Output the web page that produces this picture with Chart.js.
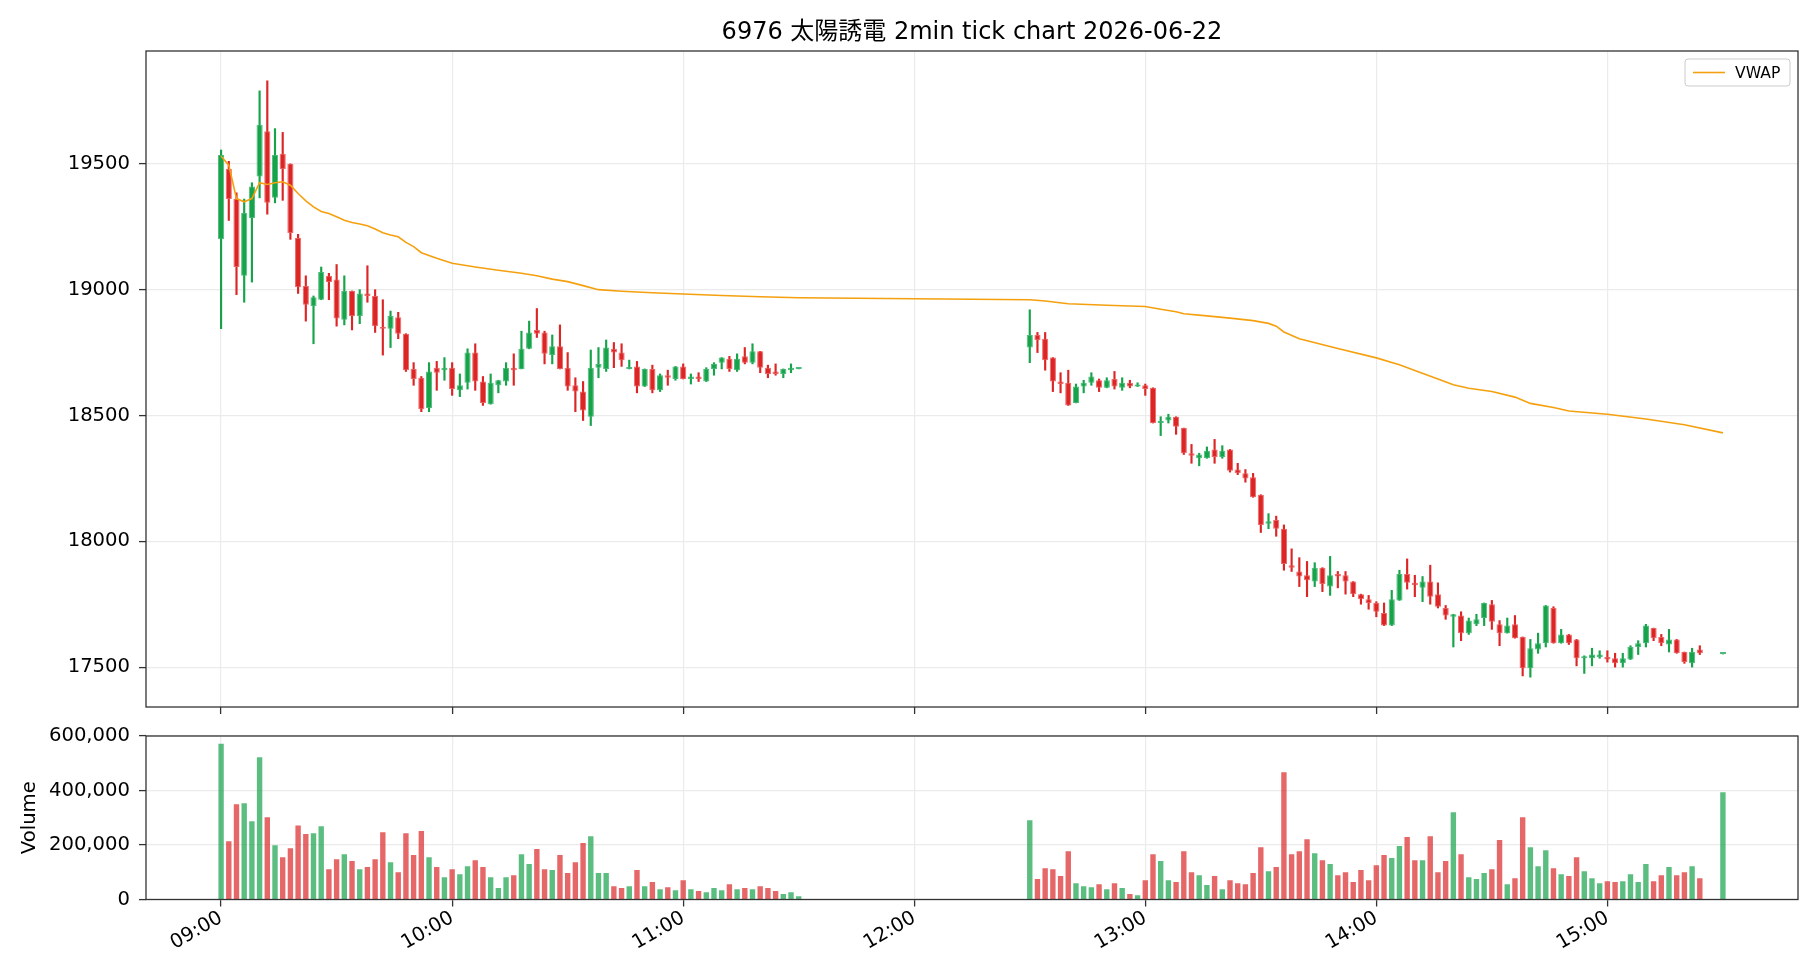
<!DOCTYPE html>
<html>
<head>
<meta charset="utf-8">
<title>6976 tick chart</title>
<script src="https://cdn.jsdelivr.net/npm/chart.js@4.4.1/dist/chart.umd.min.js"></script>
<style>
  body { margin: 0; background: #fff; }
  #wrap { position: relative; width: 1820px; height: 980px; }
  canvas { position: absolute; left: 0; }
  #priceChart { top: 0; }
  #volumeChart { top: 720px; }
</style>
</head>
<body>
<div id="wrap">
  <canvas id="priceChart" width="1820" height="720"></canvas>
  <canvas id="volumeChart" width="1820" height="260"></canvas>
</div>
<script>
const titleText = "6976 太陽誘電 2min tick chart 2026-06-22";

// morning session, 2-minute candles from 09:00
const amStart = "09:00";
const amOpen = [19200, 19480, 19360, 19055, 19285, 19450, 19630, 19365, 19540, 19500,
    19205, 19015, 18935, 18960, 19055, 19040, 18880, 18995, 18895, 18985,
    18975, 18850, 18845, 18890, 18825, 18685, 18650, 18530, 18690, 18680,
    18690, 18600, 18630, 18750, 18635, 18545, 18620, 18635, 18690, 18685,
    18765, 18840, 18830, 18740, 18775, 18690, 18620, 18595, 18495, 18690,
    18685, 18765, 18750, 18685, 18695, 18615, 18685, 18600, 18660, 18645,
    18695, 18645, 18655, 18635, 18685, 18710, 18725, 18680, 18735, 18710,
    18755, 18690, 18675, 18665, 18680, 18685];
const amHigh = [19555, 19510, 19385, 19360, 19425, 19790, 19830, 19640, 19625, 19500,
    19220, 19055, 18975, 19090, 19065, 19100, 19055, 18995, 19000, 19095,
    19000, 18960, 18915, 18910, 18825, 18710, 18655, 18710, 18715, 18730,
    18710, 18665, 18765, 18785, 18655, 18665, 18640, 18710, 18745, 18835,
    18875, 18925, 18835, 18820, 18860, 18750, 18650, 18635, 18760, 18770,
    18800, 18790, 18785, 18720, 18715, 18685, 18700, 18665, 18680, 18695,
    18705, 18665, 18670, 18690, 18710, 18730, 18735, 18745, 18770, 18785,
    18755, 18700, 18705, 18685, 18705, 18685];
const amLow = [18845, 19275, 18980, 18950, 19030, 19365, 19300, 19345, 19355, 19200,
    18985, 18875, 18785, 18960, 18960, 18855, 18860, 18840, 18865, 18950,
    18830, 18740, 18770, 18805, 18675, 18620, 18515, 18515, 18600, 18640,
    18580, 18575, 18605, 18600, 18540, 18545, 18590, 18620, 18620, 18685,
    18765, 18810, 18705, 18705, 18685, 18600, 18515, 18480, 18460, 18650,
    18675, 18690, 18695, 18685, 18590, 18615, 18590, 18595, 18620, 18640,
    18645, 18625, 18635, 18635, 18660, 18685, 18675, 18675, 18705, 18705,
    18670, 18650, 18660, 18650, 18670, 18685];
const amClose = [19535, 19360, 19090, 19305, 19410, 19655, 19345, 19535, 19480, 19225,
    19010, 18940, 18970, 19070, 19030, 18885, 18995, 18895, 18985, 18975,
    18855, 18845, 18895, 18825, 18680, 18645, 18525, 18675, 18670, 18690,
    18605, 18620, 18750, 18635, 18550, 18630, 18640, 18690, 18680, 18765,
    18830, 18825, 18745, 18775, 18685, 18615, 18595, 18520, 18690, 18705,
    18770, 18750, 18720, 18690, 18615, 18685, 18600, 18660, 18650, 18695,
    18645, 18655, 18645, 18685, 18705, 18730, 18685, 18725, 18710, 18755,
    18690, 18665, 18665, 18685, 18690, 18685];
const amVolume = [572000, 214000, 350000, 353000, 287000, 522000, 302000, 199000, 155000, 188000,
    272000, 240000, 243000, 269000, 111000, 148000, 166000, 141000, 111000, 119000,
    148000, 247000, 137000, 100000, 243000, 163000, 251000, 155000, 119000, 82000,
    111000, 93000, 122000, 144000, 119000, 82000, 42000, 82000, 89000, 166000,
    130000, 185000, 111000, 108000, 163000, 97000, 137000, 207000, 232000, 97000,
    97000, 49000, 42000, 49000, 108000, 49000, 64000, 38000, 45000, 34000,
    71000, 38000, 31000, 27000, 42000, 34000, 56000, 38000, 42000, 38000,
    49000, 42000, 31000, 20000, 27000, 12000];

// afternoon session from 12:30
const pmStart = "12:30";
const pmOpen = [18770, 18820, 18805, 18730, 18635, 18630, 18550, 18615, 18630, 18640,
    18610, 18645, 18610, 18630, 18615, 18620, 18610, 18470, 18480, 18495,
    18450, 18350, 18330, 18330, 18365, 18335, 18365, 18285, 18270, 18255,
    18185, 18070, 18085, 18050, 17905, 17880, 17865, 17840, 17895, 17820,
    17870, 17865, 17840, 17790, 17770, 17755, 17715, 17665, 17765, 17870,
    17835, 17815, 17840, 17790, 17735, 17700, 17705, 17635, 17670, 17695,
    17750, 17670, 17635, 17670, 17620, 17495, 17570, 17595, 17735, 17595,
    17630, 17610, 17535, 17535, 17540, 17540, 17535, 17515, 17530, 17580,
    17595, 17655, 17620, 17590, 17610, 17560, 17515, 17570];
const pmHigh = [18920, 18830, 18830, 18730, 18670, 18680, 18625, 18640, 18670, 18645,
    18650, 18675, 18650, 18640, 18630, 18625, 18610, 18495, 18505, 18495,
    18450, 18385, 18350, 18375, 18405, 18380, 18365, 18310, 18285, 18270,
    18185, 18110, 18100, 18065, 17970, 17935, 17920, 17915, 17895, 17940,
    17880, 17880, 17840, 17790, 17785, 17760, 17755, 17805, 17885, 17930,
    17865, 17860, 17905, 17835, 17745, 17710, 17720, 17695, 17710, 17755,
    17765, 17685, 17695, 17705, 17620, 17610, 17635, 17745, 17740, 17650,
    17630, 17610, 17545, 17575, 17565, 17565, 17555, 17555, 17585, 17605,
    17670, 17655, 17630, 17650, 17610, 17560, 17575, 17585];
const pmLow = [18710, 18750, 18680, 18595, 18590, 18540, 18550, 18590, 18620, 18595,
    18610, 18605, 18600, 18610, 18615, 18580, 18470, 18420, 18470, 18425,
    18345, 18310, 18300, 18330, 18310, 18330, 18275, 18265, 18235, 18175,
    18035, 18050, 18020, 17885, 17880, 17820, 17780, 17820, 17800, 17785,
    17815, 17790, 17780, 17750, 17730, 17700, 17665, 17665, 17765, 17810,
    17780, 17760, 17750, 17735, 17690, 17580, 17605, 17630, 17665, 17665,
    17650, 17585, 17635, 17615, 17465, 17460, 17555, 17580, 17595, 17595,
    17590, 17505, 17475, 17505, 17535, 17520, 17500, 17500, 17530, 17550,
    17580, 17605, 17585, 17560, 17555, 17515, 17500, 17550];
const pmClose = [18820, 18800, 18720, 18635, 18625, 18540, 18615, 18630, 18655, 18610,
    18640, 18615, 18630, 18615, 18620, 18605, 18470, 18475, 18495, 18455,
    18350, 18340, 18345, 18360, 18335, 18360, 18280, 18270, 18250, 18175,
    18065, 18080, 18050, 17910, 17895, 17860, 17845, 17895, 17830, 17865,
    17860, 17840, 17790, 17770, 17755, 17720, 17665, 17770, 17870, 17835,
    17825, 17840, 17780, 17740, 17705, 17710, 17635, 17685, 17690, 17755,
    17680, 17635, 17665, 17615, 17495, 17575, 17595, 17745, 17595, 17630,
    17595, 17535, 17540, 17550, 17550, 17530, 17515, 17535, 17580, 17595,
    17665, 17615, 17595, 17610, 17555, 17520, 17560, 17555];
const pmVolume = [291000, 75000, 115000, 111000, 86000, 177000, 60000, 49000, 45000, 56000,
    38000, 60000, 42000, 20000, 16000, 71000, 166000, 141000, 71000, 64000,
    177000, 100000, 89000, 53000, 86000, 38000, 71000, 60000, 56000, 97000,
    192000, 104000, 119000, 467000, 166000, 177000, 221000, 170000, 144000, 130000,
    89000, 100000, 64000, 108000, 71000, 126000, 163000, 152000, 196000, 229000,
    144000, 144000, 232000, 100000, 141000, 320000, 166000, 82000, 75000, 97000,
    111000, 218000, 56000, 78000, 302000, 192000, 122000, 181000, 115000, 93000,
    86000, 155000, 104000, 78000, 60000, 67000, 64000, 67000, 93000, 64000,
    130000, 67000, 89000, 119000, 89000, 100000, 122000, 78000];

// closing auction print
const closeTime = "15:30";
const closePrice = 17552;
const closeVolume = 394000;

const vwapTimes = ["09:00", "09:02", "09:04", "09:06", "09:08", "09:10", "09:12", "09:14", "09:16", "09:18",
    "09:20", "09:22", "09:24", "09:26", "09:28", "09:30", "09:32", "09:34", "09:36", "09:38",
    "09:40", "09:42", "09:44", "09:46", "09:48", "09:50", "09:52", "09:56", "10:00", "10:06",
    "10:12", "10:18", "10:22", "10:26", "10:30", "10:34", "10:38", "10:44", "10:52", "11:00",
    "11:10", "11:20", "11:30",
    "12:30", "12:34", "12:40", "12:50", "13:00", "13:04", "13:08", "13:10", "13:16", "13:22",
    "13:28", "13:32", "13:34", "13:36", "13:40", "13:50", "14:00", "14:06", "14:10", "14:16",
    "14:20", "14:24", "14:30", "14:36", "14:40", "14:46", "14:50", "15:00", "15:10", "15:20", "15:30"];
const vwapValues = [19530, 19495, 19362, 19349, 19362, 19425, 19418, 19425, 19429, 19415,
    19382, 19353, 19329, 19311, 19303, 19290, 19276, 19267, 19261, 19254,
    19241, 19226, 19217, 19210, 19188, 19171, 19147, 19125, 19105, 19090,
    19077, 19065, 19055, 19042, 19032, 19016, 19000, 18994, 18988, 18983,
    18977, 18972, 18968,
    18960, 18955, 18944, 18938, 18933, 18922, 18912, 18904, 18896, 18887,
    18877, 18866, 18855, 18832, 18805, 18766, 18729, 18702, 18679, 18645,
    18622, 18608, 18595, 18573, 18548, 18532, 18518, 18505, 18486, 18463, 18431];

const hourLabels = ["09:00", "10:00", "11:00", "12:00", "13:00", "14:00", "15:00"];
const priceTicks = [17500, 18000, 18500, 19000, 19500];
const volumeTicks = [0, 200000, 400000, 600000];

const FONT = '"DejaVu Sans", "Noto Sans CJK JP", sans-serif';
const UP = "#16a34a";
const DOWN = "#dc2626";
const UP_EDGE = "rgba(60, 180, 110, 0.9)";
const DOWN_EDGE = "rgba(235, 90, 90, 0.9)";
const UP_VOL = "rgba(22, 163, 74, 0.7)";
const DOWN_VOL = "rgba(220, 38, 38, 0.7)";
const GRID = "#ebebeb";
const AXIS = "#333";

function toMin(s) {
    const [h, m] = s.split(":").map(Number);
    return h * 60 + m;
}

// Collect every candle into one list
const candles = [];
function addSession(start, o, h, l, c, v) {
    const t0 = toMin(start);
    for (let i = 0; i < o.length; i++) {
        candles.push({ t: t0 + 2 * i, o: o[i], h: h[i], l: l[i], c: c[i], v: v[i] });
    }
}
addSession(amStart, amOpen, amHigh, amLow, amClose, amVolume);
addSession(pmStart, pmOpen, pmHigh, pmLow, pmClose, pmVolume);
candles.push({ t: toMin(closeTime), o: closePrice, h: closePrice, l: closePrice, c: closePrice, v: closeVolume });

const rising = candles.map(c => c.c >= c.o);

// axis limits with 5% margins like matplotlib
const tFirst = candles[0].t, tLast = candles[candles.length - 1].t;
const xMin = tFirst - (tLast - tFirst) * 0.05;
const xMax = tLast + (tLast - tFirst) * 0.05;
const lo = Math.min(...candles.map(c => c.l)), hi = Math.max(...candles.map(c => c.h));
const yMin = lo - (hi - lo) * 0.05;
const yMax = hi + (hi - lo) * 0.05;

const tickFont = { family: FONT, size: 19.6 };

function timeAxis(showLabels, height) {
    return {
        type: "linear",
        min: xMin,
        max: xMax,
        offset: false,
        afterBuildTicks: s => { s.ticks = hourLabels.map(h => ({ value: toMin(h) })); },
        afterFit: s => { s.height = height; s.paddingLeft = 0; s.paddingRight = 0; },
        ticks: {
            display: showLabels,
            autoSkip: false,
            minRotation: 30,
            maxRotation: 30,
            padding: 0,
            font: tickFont,
            color: "#000",
            callback: (v, i) => hourLabels[i]
        },
        grid: { color: GRID, lineWidth: 1.2, tickColor: AXIS, tickWidth: 1.3, tickLength: 7, offset: false },
        border: { display: false }
    };
}

// y axis keeps a fixed width and asks for no extra room above or below
function fixY(s) {
    s.width = 146;
    s.paddingTop = 0;
    s.paddingBottom = 0;
}

// Frame round the plot area (all four spines)
const framePlugin = {
    id: "frame",
    afterDraw(chart) {
        const { ctx, chartArea: a } = chart;
        ctx.save();
        ctx.strokeStyle = AXIS;
        ctx.lineWidth = 1.3;
        ctx.strokeRect(a.left, a.top, a.right - a.left, a.bottom - a.top);
        ctx.restore();
    }
};

// Title above the plot and matplotlib-style legend box
const headerPlugin = {
    id: "header",
    afterDraw(chart) {
        const { ctx, chartArea: a } = chart;
        ctx.save();
        ctx.fillStyle = "#000";
        ctx.font = "24px " + FONT;
        ctx.textAlign = "center";
        ctx.textBaseline = "middle";
        ctx.fillText(titleText, (a.left + a.right) / 2, a.top - 18);

        const bw = 105, bh = 27;
        const bx = a.right - 8 - bw, by = a.top + 8;
        ctx.beginPath();
        ctx.roundRect(bx, by, bw, bh, 3);
        ctx.fillStyle = "rgba(255,255,255,0.85)";
        ctx.fill();
        ctx.strokeStyle = "#cccccc";
        ctx.lineWidth = 1;
        ctx.stroke();
        ctx.beginPath();
        ctx.moveTo(bx + 8, by + bh / 2);
        ctx.lineTo(bx + 40, by + bh / 2);
        ctx.strokeStyle = "#f5a00f";
        ctx.lineWidth = 1.6;
        ctx.stroke();
        ctx.fillStyle = "#000";
        ctx.font = "15.6px " + FONT;
        ctx.textAlign = "left";
        ctx.fillText("VWAP", bx + 50, by + bh / 2 + 1);
        ctx.restore();
    }
};

Chart.defaults.font.family = FONT;

new Chart(document.getElementById("priceChart"), {
    type: "bar",
    data: {
        datasets: [
            {
                type: "line",
                label: "VWAP",
                data: vwapTimes.map((t, i) => ({ x: toMin(t), y: vwapValues[i] })),
                borderColor: "#f5a00f",
                borderWidth: 1.6,
                pointRadius: 0,
                tension: 0,
                order: 0
            },
            {
                label: "body",
                data: candles.map(c => ({ x: c.t, y: [c.o, c.c] })),
                backgroundColor: rising.map(r => r ? UP : DOWN),
                borderColor: rising.map(r => r ? UP_EDGE : DOWN_EDGE),
                borderWidth: 1,
                borderSkipped: false,
                grouped: false,
                barPercentage: 0.8,
                categoryPercentage: 1,
                minBarLength: 2,
                order: 1
            },
            {
                label: "wick",
                data: candles.map(c => ({ x: c.t, y: [c.l, c.h] })),
                backgroundColor: rising.map(r => r ? UP : DOWN),
                borderWidth: 0,
                grouped: false,
                barPercentage: 1,
                categoryPercentage: 1,
                maxBarThickness: 1.5,
                order: 2
            }
        ]
    },
    options: {
        responsive: false,
        devicePixelRatio: 1,
        animation: false,
        events: [],
        layout: { padding: { top: 51, right: 22, left: 0, bottom: 0 } },
        plugins: { legend: { display: false }, tooltip: { enabled: false }, title: { display: false } },
        scales: {
            x: timeAxis(false, 13),
            y: {
                min: yMin,
                max: yMax,
                afterBuildTicks: s => { s.ticks = priceTicks.map(v => ({ value: v })); },
                afterFit: fixY,
                ticks: { font: tickFont, color: "#000", padding: 9, callback: v => String(v) },
                grid: { color: GRID, lineWidth: 1.2, tickColor: AXIS, tickWidth: 1.3, tickLength: 7 },
                border: { display: false }
            }
        }
    },
    plugins: [framePlugin, headerPlugin]
});

new Chart(document.getElementById("volumeChart"), {
    type: "bar",
    data: {
        datasets: [{
            label: "Volume",
            data: candles.map(c => ({ x: c.t, y: c.v })),
            backgroundColor: rising.map(r => r ? UP_VOL : DOWN_VOL),
            borderWidth: 0,
            grouped: false,
            barPercentage: 0.7,
            categoryPercentage: 1
        }]
    },
    options: {
        responsive: false,
        devicePixelRatio: 1,
        animation: false,
        events: [],
        layout: { padding: { top: 16, right: 22, left: 0, bottom: 0 } },
        plugins: { legend: { display: false }, tooltip: { enabled: false } },
        scales: {
            x: timeAxis(true, 80.5),
            y: {
                min: 0,
                max: 600000,
                afterBuildTicks: s => { s.ticks = volumeTicks.map(v => ({ value: v })); },
                afterFit: fixY,
                ticks: { font: tickFont, color: "#000", padding: 9, callback: v => v.toLocaleString("en-US") },
                grid: { color: GRID, lineWidth: 1.2, tickColor: AXIS, tickWidth: 1.3, tickLength: 7 },
                border: { display: false },
                title: { display: true, text: "Volume", font: tickFont, color: "#000", padding: { top: 18, bottom: 0 } }
            }
        }
    },
    plugins: [framePlugin]
});
</script>
</body>
</html>
